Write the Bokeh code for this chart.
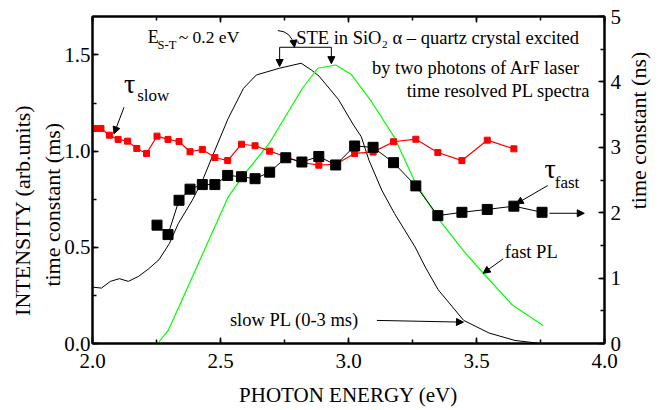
from bokeh.plotting import figure
from bokeh.layouts import row
from bokeh.models import (Range1d, LinearAxis, SingleIntervalTicker, PrintfTickFormatter,
                          CustomJSTickFormatter, Label, Arrow, NormalHead)
from bokeh.embed import file_html
from bokeh.resources import INLINE

# ---------------- data ----------------
slow_pl_energy = [2.00, 2.035, 2.07, 2.105, 2.14, 2.18, 2.22, 2.26, 2.30, 2.335, 2.39, 2.43,
                  2.47, 2.53, 2.59, 2.64, 2.73, 2.815, 2.855, 2.885, 2.96, 3.02, 3.05, 3.08,
                  3.13, 3.18, 3.26, 3.30, 3.35, 3.45, 3.55, 3.65, 3.75]
slow_pl_intensity = [0.293, 0.288, 0.323, 0.337, 0.323, 0.349, 0.389, 0.436, 0.519, 0.623,
                     0.745, 0.849, 0.979, 1.17, 1.327, 1.396, 1.431, 1.457, 1.422, 1.39,
                     1.27, 1.135, 1.075, 0.953, 0.797, 0.675, 0.502, 0.397, 0.28, 0.12,
                     0.054, 0.016, 0.0]

fast_pl_energy = [2.255, 2.297, 2.343, 2.53, 2.59, 2.69, 2.82, 2.88, 2.95, 3.01, 3.09, 3.18,
                  3.26, 3.35, 3.45, 3.53, 3.64, 3.76]
fast_pl_intensity = [0.0, 0.071, 0.207, 0.762, 0.875, 1.04, 1.327, 1.431, 1.448, 1.40, 1.257,
                     1.07, 0.84, 0.65, 0.48, 0.36, 0.20, 0.094]

tau_slow_energy = [2.008, 2.033, 2.066, 2.10, 2.137, 2.173, 2.211, 2.252, 2.295, 2.338, 2.381,
                   2.429, 2.478, 2.528, 2.582, 2.635, 2.692, 2.755, 2.818, 2.884, 2.950, 3.024,
                   3.096, 3.176, 3.263, 3.349, 3.443, 3.542, 3.646]
tau_slow_ms = [1.118, 1.118, 1.083, 1.061, 1.052, 1.014, 0.988, 1.078, 1.061, 1.050, 0.997,
               1.009, 0.967, 0.951, 1.036, 1.028, 1.000, 0.971, 0.941, 0.927, 0.932, 0.988,
               0.995, 1.049, 1.062, 0.993, 0.951, 1.057, 1.012]

tau_fast_energy = [2.252, 2.295, 2.338, 2.381, 2.429, 2.478, 2.528, 2.582, 2.635, 2.692, 2.755,
                   2.818, 2.884, 2.950, 3.024, 3.096, 3.176, 3.263, 3.349, 3.443, 3.542,
                   3.646, 3.756]
tau_fast_ns = [1.81, 1.665, 2.19, 2.36, 2.43, 2.43, 2.57, 2.55, 2.52, 2.62, 2.84, 2.775, 2.86,
               2.73, 3.02, 3.00, 2.765, 2.41, 1.955, 2.006, 2.05, 2.10, 2.006]

x_ticks_interval = 0.5
left_ticks_interval = 0.5
right_ticks_interval = 1

FONT = "Liberation Serif"
RED = "#ff0000"
GREEN = "#00ff00"
NB = "\u00a0"
TEXT_DY = 0.029   # small upward nudge applied to in-plot texts

p = figure(width=624, height=410, output_backend="svg", toolbar_location=None,
           x_range=Range1d(2.0, 4.0), y_range=Range1d(0.0, 1.7),
           min_border_left=92, min_border_right=17, min_border_top=16, min_border_bottom=67)
p.extra_y_ranges = {"ns": Range1d(0.0, 5.0)}
p.xgrid.visible = False
p.ygrid.visible = False
p.outline_line_color = "black"
p.outline_line_width = 2
p.background_fill_color = "white"
p.border_fill_color = "white"


def style_axis(ax, label_size="21px", standoff=4):
    ax.axis_line_width = 2
    ax.axis_line_color = "black"
    ax.major_tick_in = 6
    ax.major_tick_out = 0
    ax.minor_tick_in = 4
    ax.minor_tick_out = 0
    ax.major_tick_line_width = 1.5
    ax.minor_tick_line_width = 1.5
    ax.major_tick_line_color = "black"
    ax.minor_tick_line_color = "black"
    ax.major_label_text_font = FONT
    ax.major_label_text_font_size = label_size
    ax.major_label_text_color = "black"
    ax.major_label_standoff = standoff
    ax.axis_label_text_font = FONT
    ax.axis_label_text_font_style = "normal"
    ax.axis_label_text_color = "black"
    ax.axis_label_text_font_size = "22px"


xax = p.xaxis[0]
xax.ticker = SingleIntervalTicker(interval=x_ticks_interval, num_minor_ticks=2)
xax.formatter = PrintfTickFormatter(format="%.1f")
style_axis(xax, standoff=10)
xax.axis_label = "PHOTON ENERGY (eV)"
xax.axis_label_text_font_size = "21px"
xax.axis_label_standoff = 12

yax = p.yaxis[0]
yax.ticker = SingleIntervalTicker(interval=left_ticks_interval, num_minor_ticks=2)
yax.formatter = PrintfTickFormatter(format="%.1f")
style_axis(yax, standoff=2)
yax.axis_label = "INTENSITY (arb.units)" + NB * 11 + "\n" + "time constant (ms)" + NB * 9
yax.axis_label_standoff = -4

top_ax = LinearAxis(ticker=SingleIntervalTicker(interval=x_ticks_interval, num_minor_ticks=2),
                    formatter=CustomJSTickFormatter(code="return ''"))
style_axis(top_ax, label_size="10px", standoff=0)
p.add_layout(top_ax, "above")

right_ax = LinearAxis(y_range_name="ns",
                      ticker=SingleIntervalTicker(interval=right_ticks_interval, num_minor_ticks=2),
                      formatter=PrintfTickFormatter(format="%d"))
style_axis(right_ax, standoff=6)
p.add_layout(right_ax, "right")

# ---------------- series ----------------
p.line(slow_pl_energy, slow_pl_intensity, line_color="black", line_width=1)
p.line(fast_pl_energy, fast_pl_intensity, line_color=GREEN, line_width=1.2)
p.line(tau_slow_energy, tau_slow_ms, line_color=RED, line_width=1.2)
p.scatter(tau_slow_energy, tau_slow_ms, marker="square", size=6,
          fill_color=RED, line_color=RED)
p.line(tau_fast_energy, tau_fast_ns, y_range_name="ns", line_color="black", line_width=1)
p.scatter(tau_fast_energy, tau_fast_ns, y_range_name="ns", marker="square", size=10,
          fill_color="black", line_color="black")


# ---------------- annotations ----------------
def txt(x, y, s, size="18.5px", align="left", dy=TEXT_DY):
    p.add_layout(Label(x=x, y=y + dy, text=s, text_font=FONT, text_font_size=size,
                       text_color="black", text_align=align, text_baseline="alphabetic"))


def arrow(x0, y0, x1, y1, head=True):
    p.add_layout(Arrow(x_start=x0, y_start=y0, x_end=x1, y_end=y1,
                       line_color="black", line_width=1,
                       end=NormalHead(size=7, fill_color="black", line_color="black") if head else None))


# E_S-T
txt(2.216, 1.566, "E", size="18px")
txt(2.254, 1.523, "S-T", size="12.5px")
txt(2.337, 1.566, "~ 0.2 eV", size="17.5px")

# title lines
txt(2.7955, 1.561, "STE in SiO\u2082 \u03b1 \u2013 quartz crystal  excited", size="18.5px")
txt(3.0916, 1.402, "by two photons of ArF laser", size="18.5px")
txt(3.2274, 1.284, "time resolved PL spectra", size="18.5px")

# tau labels
txt(2.1226, 1.3065, "\u03c4", size="28px", dy=TEXT_DY + 0.015)
txt(2.1746, 1.258, "slow", size="17px")
txt(3.7656, 0.8646, "\u03c4", size="28px", dy=TEXT_DY + 0.015)
txt(3.8056, 0.8095, "fast", size="17px")

txt(3.6104, 0.4487, "fast PL", size="18.5px")
txt(2.5367, 0.0936, "slow PL (0-3 ms)", size="18.5px")

# arrows
arrow(2.123, 1.228, 2.084, 1.090)          # tau slow
arrow(3.778, 0.821, 3.655, 0.726)          # tau fast
arrow(3.785, 0.677, 3.921, 0.677)          # right arrow after last point
arrow(3.604, 0.440, 3.526, 0.365)          # fast PL
arrow(3.111, 0.120, 3.449, 0.111)          # slow PL

# bracket over both peaks
arrow(2.731, 1.540, 2.933, 1.540, head=False)
arrow(2.731, 1.540, 2.731, 1.440)
arrow(2.933, 1.540, 2.933, 1.455)

# curved pointer from the title to the bracket
p.quadratic(x0=[2.724], y0=[1.627], x1=[2.787], y1=[1.548], cx=[2.7775], cy=[1.622],
            line_color="black", line_width=1)
arrow(2.785, 1.575, 2.789, 1.540)

# ---------------- right-hand axis title (reads bottom to top) ----------------
q = figure(width=42, height=410, output_backend="svg", toolbar_location=None,
           x_range=Range1d(0, 1), y_range=Range1d(0, 1), x_axis_type=None, y_axis_type=None,
           min_border_left=0, min_border_right=0, min_border_top=0, min_border_bottom=0)
q.xgrid.visible = False
q.ygrid.visible = False
q.outline_line_color = None
q.background_fill_color = "white"
q.border_fill_color = "white"
q.add_layout(Label(x=14, y=213, x_units="screen", y_units="screen", text="time constant (ns)",
                   text_font=FONT, text_font_size="22px", text_color="black",
                   text_align="center", text_baseline="middle", angle=90, angle_units="deg"))

layout = row(p, q, spacing=0)
open("out.html", "w").write(file_html(layout, INLINE))
